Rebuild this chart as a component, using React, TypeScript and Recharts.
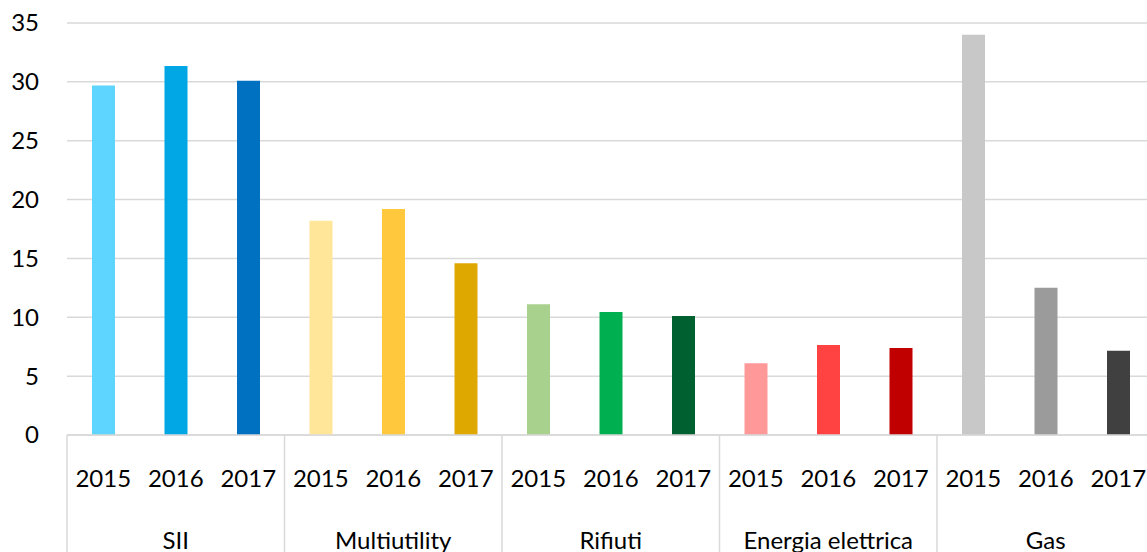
import React from "react";
import { BarChart, Bar, XAxis, YAxis, CartesianGrid, Cell } from "recharts";

const categories = ["SII", "Multiutility", "Rifiuti", "Energia elettrica", "Gas"];
const years = ["2015", "2016", "2017"];
const sii = [29.7, 31.35, 30.1];
const multiutility = [18.2, 19.2, 14.6];
const rifiuti = [11.1, 10.45, 10.1];
const energia = [6.1, 7.65, 7.4];
const gas = [34.0, 12.5, 7.15];
const seriesValues = [sii, multiutility, rifiuti, energia, gas];
const colors = [
  ["#5dd5ff", "#00a7e4", "#0070c0"],
  ["#ffe699", "#ffc83d", "#dfa800"],
  ["#a9d18e", "#00b050", "#006030"],
  ["#ff9999", "#ff4343", "#c00000"],
  ["#c8c8c8", "#9b9b9b", "#404040"],
];
const yTicks = [0, 5, 10, 15, 20, 25, 30, 35];

const data = categories.flatMap((cat, i) =>
  years.map((year, j) => ({
    key: `${cat}-${year}`,
    cat,
    year,
    value: seriesValues[i][j],
    color: colors[i][j],
  }))
);

const CHART_W = 1160;
const CHART_H = 552;
const Y_W = 67;
const M_RIGHT = 5.5;
const PLOT_W = CHART_W - Y_W - M_RIGHT;
const BAND = PLOT_W / data.length;
const FONT = "Lato, 'Open Sans', sans-serif";
const LINE = "#d9d9d9";

const YearTick = (props: any) => {
  const { x, y, index } = props;
  const d = data[index];
  return (
    <g>
      {index % 3 === 0 && (
        <line x1={x - BAND / 2} x2={x - BAND / 2} y1={y} y2={CHART_H} stroke={LINE} strokeWidth={1.5} />
      )}
      <text x={x} y={y + 52} textAnchor="middle" fontFamily={FONT} fontSize={24} fill="#000">
        {d ? d.year : ""}
      </text>
    </g>
  );
};

const CatTick = (props: any) => {
  const { x, y, index } = props;
  if (index % 3 !== 1) return <g />;
  const d = data[index];
  return (
    <text x={x} y={y + 44} textAnchor="middle" fontFamily={FONT} fontSize={24} fill="#000">
      {d ? d.cat : ""}
    </text>
  );
};

const YTick = (props: any) => {
  const { x, y, payload } = props;
  return (
    <text x={x - 28} y={y} dy="0.35em" textAnchor="end" fontFamily={FONT} fontSize={24} fill="#000">
      {payload.value}
    </text>
  );
};

export default function App() {
  return (
    <div style={{ position: "absolute", left: 0, top: 0, width: 1147, height: 552, overflow: "hidden", background: "#fff" }}>
      <BarChart
        width={CHART_W}
        height={CHART_H}
        data={data}
        margin={{ top: 23, right: M_RIGHT, bottom: 0, left: 0 }}
      >
        <CartesianGrid vertical={false} stroke={LINE} strokeWidth={1.5} />
        <YAxis
          domain={[0, 35]}
          ticks={yTicks}
          width={Y_W}
          axisLine={false}
          tickLine={false}
          tickSize={0}
          tickMargin={0}
          tick={<YTick />}
          interval={0}
        />
        <XAxis
          dataKey="key"
          interval={0}
          height={70}
          axisLine={{ stroke: LINE, strokeWidth: 1.5 }}
          tickLine={false}
          tickSize={0}
          tickMargin={0}
          tick={<YearTick />}
        />
        <XAxis
          xAxisId="cat"
          dataKey="key"
          interval={0}
          height={47}
          axisLine={false}
          tickLine={false}
          tickSize={0}
          tickMargin={0}
          tick={<CatTick />}
        />
        <Bar dataKey="value" barSize={23} isAnimationActive={false}>
          {data.map((d) => (
            <Cell key={d.key} fill={d.color} />
          ))}
        </Bar>
      </BarChart>
    </div>
  );
}
